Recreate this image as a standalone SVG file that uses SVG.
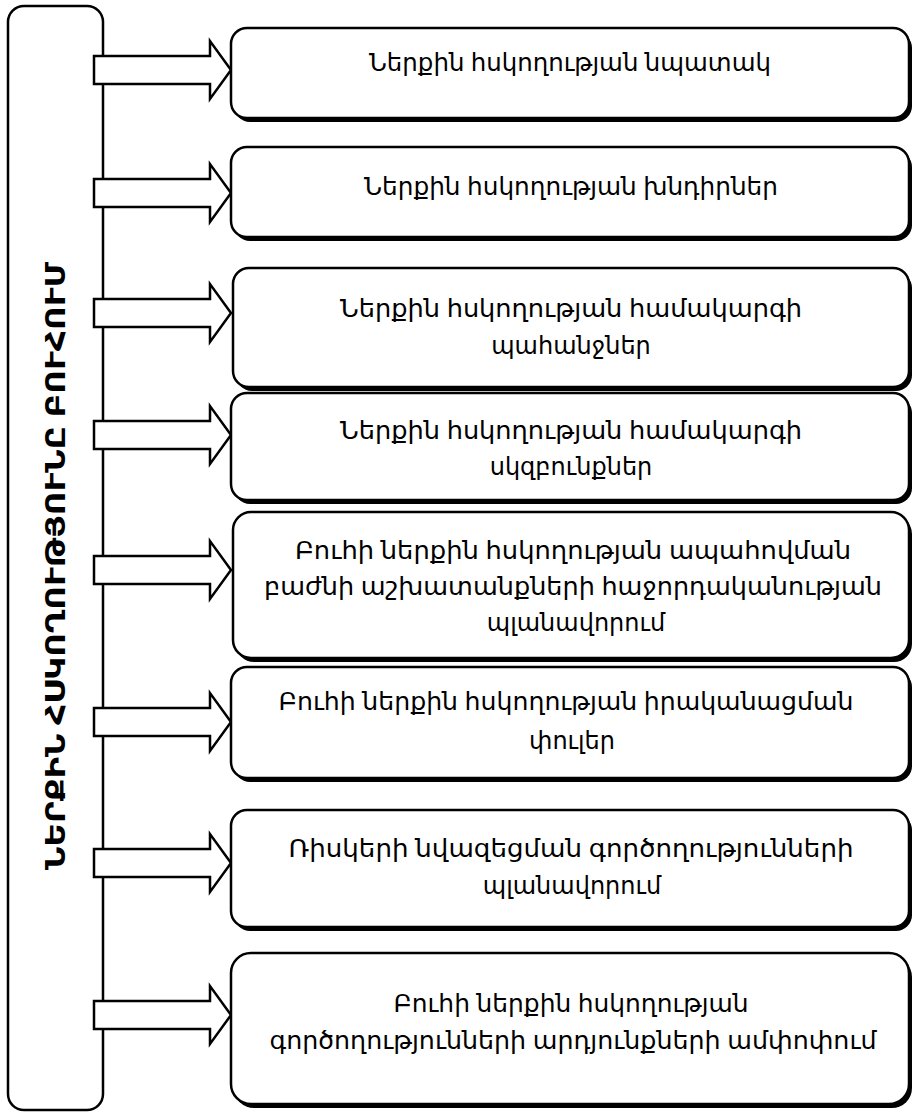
<svg xmlns="http://www.w3.org/2000/svg" width="913" height="1115" viewBox="0 0 913 1115">
<style>
.bx{fill:#fff;stroke:#000;stroke-width:2.5}
.sh{fill:#000}
.ar{fill:#fff;stroke:#000;stroke-width:2.5;stroke-linejoin:miter}
.t{font-family:"Noto Sans","DejaVu Sans",sans-serif;font-size:24px;fill:#000;text-anchor:middle}
.v{font-family:"Noto Sans","DejaVu Sans",sans-serif;font-size:27px;font-weight:bold;fill:#000;text-anchor:middle}
</style>
<defs>
<path id="arr" d="M94,-14 H210 V-29 L231,0 L210,29 V14 H94 Z"/>
</defs>
<rect width="913" height="1115" fill="#fff"/>
<g id="main">
<rect class="bx" x="8" y="6" width="95" height="1104" rx="16"/>
<text class="v" transform="translate(65,566) rotate(-90)" textLength="608" lengthAdjust="spacingAndGlyphs">ՆԵՐՔԻՆ ՀՍԿՈՂՈՒԹՅՈՒՆԸ ԲՈՒՀՈՒՄ</text>
</g>
<g id="connectors">
<use href="#arr" class="ar" transform="translate(0,70)"/>
<use href="#arr" class="ar" transform="translate(0,193)"/>
<use href="#arr" class="ar" transform="translate(0,313)"/>
<use href="#arr" class="ar" transform="translate(0,435)"/>
<use href="#arr" class="ar" transform="translate(0,570)"/>
<use href="#arr" class="ar" transform="translate(0,722)"/>
<use href="#arr" class="ar" transform="translate(0,863)"/>
<use href="#arr" class="ar" transform="translate(0,1015)"/>
</g>
<g id="n1">
<rect class="sh" x="234" y="32" width="678" height="90" rx="16"/>
<rect class="bx" x="231" y="28" width="678" height="90" rx="16"/>
<text class="t" x="570" y="71" textLength="402" lengthAdjust="spacingAndGlyphs">Ներքին հսկողության նպատակ</text>
</g>
<g id="n2">
<rect class="sh" x="234" y="151" width="678" height="90" rx="16"/>
<rect class="bx" x="231" y="147" width="678" height="90" rx="16"/>
<text class="t" x="571" y="195" textLength="414" lengthAdjust="spacingAndGlyphs">Ներքին հսկողության խնդիրներ</text>
</g>
<g id="n3">
<rect class="sh" x="236" y="272" width="676" height="119" rx="16"/>
<rect class="bx" x="233" y="268" width="676" height="119" rx="16"/>
<text class="t" x="571" y="317" textLength="462" lengthAdjust="spacingAndGlyphs">Ներքին հսկողության համակարգի</text>
<text class="t" x="571" y="354">պահանջներ</text>
</g>
<g id="n4">
<rect class="sh" x="234" y="397" width="678" height="107" rx="16"/>
<rect class="bx" x="231" y="393" width="678" height="107" rx="16"/>
<text class="t" x="571" y="439" textLength="462" lengthAdjust="spacingAndGlyphs">Ներքին հսկողության համակարգի</text>
<text class="t" x="571" y="475">սկզբունքներ</text>
</g>
<g id="n5">
<rect class="sh" x="236" y="516" width="676" height="146" rx="18"/>
<rect class="bx" x="233" y="512" width="676" height="146" rx="18"/>
<text class="t" x="573" y="559" textLength="556" lengthAdjust="spacingAndGlyphs">Բուհի ներքին հսկողության ապահովման</text>
<text class="t" x="573" y="595" textLength="618" lengthAdjust="spacingAndGlyphs">բաժնի աշխատանքների հաջորդականության</text>
<text class="t" x="576" y="631">պլանավորում</text>
</g>
<g id="n6">
<rect class="sh" x="234" y="671" width="678" height="111" rx="16"/>
<rect class="bx" x="231" y="667" width="678" height="111" rx="16"/>
<text class="t" x="566" y="710" textLength="575" lengthAdjust="spacingAndGlyphs">Բուհի ներքին հսկողության իրականացման</text>
<text class="t" x="572" y="749">փուլեր</text>
</g>
<g id="n7">
<rect class="sh" x="234" y="814" width="678" height="117" rx="16"/>
<rect class="bx" x="231" y="810" width="678" height="117" rx="16"/>
<text class="t" x="571" y="857" textLength="565" lengthAdjust="spacingAndGlyphs">Ռիսկերի նվազեցման գործողությունների</text>
<text class="t" x="572" y="894">պլանավորում</text>
</g>
<g id="n8">
<rect class="sh" x="234" y="957" width="678" height="151" rx="20"/>
<rect class="bx" x="231" y="953" width="678" height="151" rx="20"/>
<text class="t" x="571" y="1012" textLength="355" lengthAdjust="spacingAndGlyphs">Բուհի ներքին հսկողության</text>
<text class="t" x="573" y="1049" textLength="607" lengthAdjust="spacingAndGlyphs">գործողությունների արդյունքների ամփոփում</text>
</g>
</svg>
